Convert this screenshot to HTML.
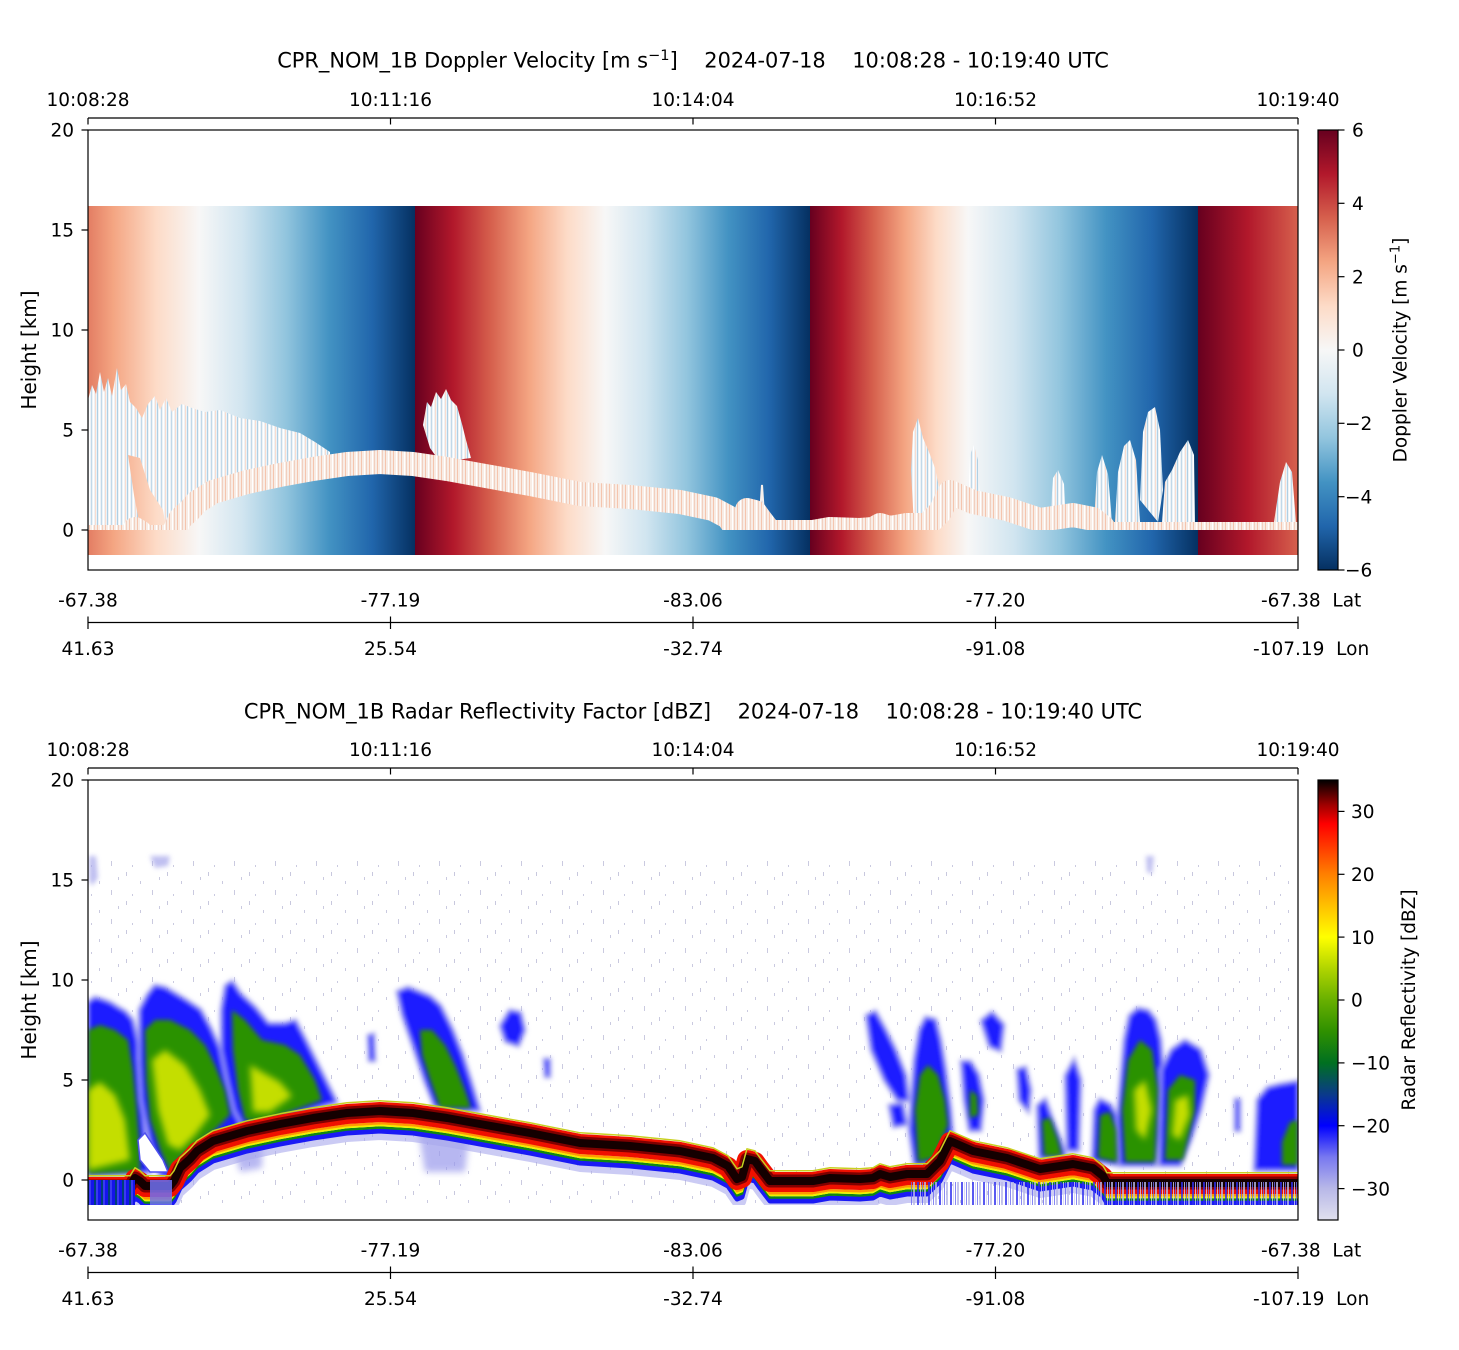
<!DOCTYPE html>
<html><head><meta charset="utf-8"><style>
html,body{margin:0;padding:0;background:#fff;}
svg{display:block;}
text{font-family:"DejaVu Sans","Liberation Sans",sans-serif;fill:#000;white-space:pre;}
</style></head><body>
<svg width="1459" height="1350" viewBox="0 0 1459 1350" xmlns="http://www.w3.org/2000/svg">
<defs>
<linearGradient id="dv" gradientUnits="userSpaceOnUse" x1="88" y1="0" x2="1298" y2="0">
<stop offset="0" stop-color="#e37d63"/><stop offset="0.0208" stop-color="#f4a582"/><stop offset="0.0564" stop-color="#fddbc7"/><stop offset="0.0921" stop-color="#f7f7f7"/><stop offset="0.1277" stop-color="#d1e5f0"/><stop offset="0.1634" stop-color="#92c5de"/><stop offset="0.1990" stop-color="#4393c3"/><stop offset="0.2346" stop-color="#2166ac"/><stop offset="0.2702" stop-color="#053061"/>
<stop offset="0.2702" stop-color="#67001f"/><stop offset="0.3017" stop-color="#b2182b"/><stop offset="0.3331" stop-color="#d6604d"/><stop offset="0.3645" stop-color="#f4a582"/><stop offset="0.3959" stop-color="#fddbc7"/><stop offset="0.4273" stop-color="#f7f7f7"/><stop offset="0.4612" stop-color="#d1e5f0"/><stop offset="0.4950" stop-color="#92c5de"/><stop offset="0.5289" stop-color="#4393c3"/><stop offset="0.5628" stop-color="#2166ac"/><stop offset="0.5967" stop-color="#053061"/>
<stop offset="0.5967" stop-color="#67001f"/><stop offset="0.6228" stop-color="#b2182b"/><stop offset="0.6489" stop-color="#d6604d"/><stop offset="0.6750" stop-color="#f4a582"/><stop offset="0.7012" stop-color="#fddbc7"/><stop offset="0.7273" stop-color="#f7f7f7"/><stop offset="0.7653" stop-color="#d1e5f0"/><stop offset="0.8033" stop-color="#92c5de"/><stop offset="0.8413" stop-color="#4393c3"/><stop offset="0.8793" stop-color="#2166ac"/><stop offset="0.9174" stop-color="#053061"/>
<stop offset="0.9174" stop-color="#67001f"/><stop offset="0.9587" stop-color="#b2182b"/><stop offset="1" stop-color="#d6604d"/>
</linearGradient>
<linearGradient id="cb1" x1="0" y1="0" x2="0" y2="1">
<stop offset="0" stop-color="#67001f"/><stop offset="0.1" stop-color="#b2182b"/><stop offset="0.2" stop-color="#d6604d"/><stop offset="0.3" stop-color="#f4a582"/><stop offset="0.4" stop-color="#fddbc7"/><stop offset="0.5" stop-color="#f7f7f7"/><stop offset="0.6" stop-color="#d1e5f0"/><stop offset="0.7" stop-color="#92c5de"/><stop offset="0.8" stop-color="#4393c3"/><stop offset="0.9" stop-color="#2166ac"/><stop offset="1" stop-color="#053061"/>
</linearGradient>
<linearGradient id="cb2" x1="0" y1="0" x2="0" y2="1">
<stop offset="0" stop-color="#000000"/><stop offset="0.0571" stop-color="#a00000"/><stop offset="0.1" stop-color="#ff0000"/><stop offset="0.1429" stop-color="#ff3000"/><stop offset="0.2143" stop-color="#ff8000"/><stop offset="0.2857" stop-color="#ffc000"/><stop offset="0.3571" stop-color="#ffff00"/><stop offset="0.4286" stop-color="#b0d400"/><stop offset="0.5" stop-color="#68b000"/><stop offset="0.5714" stop-color="#2f9000"/><stop offset="0.6429" stop-color="#007020"/><stop offset="0.7143" stop-color="#0a3a8a"/><stop offset="0.7857" stop-color="#0000ff"/><stop offset="0.8571" stop-color="#7878f0"/><stop offset="0.9286" stop-color="#b8b8e8"/><stop offset="1" stop-color="#e0e0ee"/>
</linearGradient>
<pattern id="cp" width="10" height="6" patternUnits="userSpaceOnUse">
<rect width="10" height="6" fill="#edf2f6"/><rect x="1" width="1" height="6" fill="#c2d9e9"/><rect x="3" width="1" height="6" fill="#ffffff"/><rect x="5" width="1" height="6" fill="#f9ddd0"/><rect x="7" width="1" height="6" fill="#b0d0e4"/><rect x="9" width="1" height="6" fill="#ffffff"/>
</pattern>
<pattern id="bp" width="8" height="4" patternUnits="userSpaceOnUse">
<rect width="8" height="4" fill="#f8ece5"/><rect x="1" width="1" height="4" fill="#f5c5ae"/><rect x="4" width="1" height="4" fill="#ffffff"/><rect x="6" width="1" height="4" fill="#f1cfbf"/>
</pattern>
<pattern id="spk" width="41" height="29" patternUnits="userSpaceOnUse">
<rect x="3" y="2" width="1" height="4" fill="#c8c8de"/><rect x="17" y="11" width="1" height="3" fill="#cacae0"/><rect x="29" y="20" width="1" height="5" fill="#cacae0"/><rect x="9" y="24" width="1" height="2" fill="#cacae0"/><rect x="36" y="7" width="1" height="3" fill="#cacae0"/>
</pattern>
<pattern id="ds" width="7" height="30" patternUnits="userSpaceOnUse">
<rect width="3" height="30" fill="#1414ea"/><rect x="3" width="2" height="30" fill="#00407a"/><rect x="5" width="2" height="30" fill="#3a3af2"/>
</pattern>
<pattern id="ls" width="11" height="30" patternUnits="userSpaceOnUse">
<rect x="0" width="2" height="30" fill="#b8b8e8"/><rect x="4" width="2" height="30" fill="#3030ee"/><rect x="7" width="1" height="30" fill="#d0d0f0"/><rect x="9" width="1" height="30" fill="#6a6af0"/>
</pattern>
<filter id="bl" x="-20%" y="-20%" width="140%" height="140%"><feGaussianBlur stdDeviation="2.5"/></filter>
<filter id="bl2" x="-20%" y="-20%" width="140%" height="140%"><feGaussianBlur stdDeviation="3.5"/></filter>
<clipPath id="clipT"><rect x="88" y="130" width="1210" height="440"/></clipPath>
<clipPath id="clipTband"><rect x="88" y="130" width="1210" height="400"/></clipPath>
<clipPath id="clipB"><rect x="88" y="780" width="1210" height="425"/></clipPath>
<path id="surf" d="M88,-5 L130,-5 L135,-13 L140,-10 L145,-5 L170,-5 L174,-10 L180,-23 L190,-32 L197,-40 L213,-50 L247,-60 L280,-67 L313,-73 L347,-78 L380,-80 L413,-78 L447,-73 L480,-67 L530,-58 L580,-48 L630,-45 L680,-40 L713,-33 L728,-25 L737,-12 L742,-14 L747,-32 L755,-30 L760,-23 L770,-10 L813,-10 L830,-13 L860,-12 L873,-13 L880,-17 L890,-14 L907,-17 L927,-17 L940,-30 L950,-50 L973,-40 L1007,-33 L1040,-22 L1060,-25 L1073,-27 L1093,-23 L1103,-15 L1107,-8 L1298,-8"/>
</defs>

<!-- ================= TOP PANEL ================= -->
<text x="693" y="67.5" text-anchor="middle" font-size="20.9">CPR_NOM_1B Doppler Velocity [m s<tspan font-size="14.6" dy="-7.5">−1</tspan><tspan dy="7.5">]    2024-07-18    10:08:28 - 10:19:40 UTC</tspan></text>

<g clip-path="url(#clipT)">
<rect x="88" y="206" width="1210" height="349" fill="url(#dv)"/>
<g fill="url(#cp)">
<polygon points="88,400 92,385 96,394 100,372 104,392 108,378 112,396 117,368 121,390 126,384 130,402 136,408 142,418 148,404 155,396 160,410 166,398 172,412 182,404 192,408 205,412 220,410 240,418 260,421 280,428 300,433 315,442 330,452 330,462 300,470 250,485 200,505 178,528 88,528"/>
<polygon points="423,425 427,402 431,407 436,392 441,399 446,389 451,400 457,406 462,424 466,440 471,458 440,462 430,448"/>
<polygon points="911,470 913,432 918,418 923,438 929,452 935,468 941,497 946,522 914,526"/>
<polygon points="968,505 970,455 974,445 978,460 980,505"/>
<polygon points="1094,522 1097,472 1102,455 1108,474 1112,522"/>
<polygon points="1115,522 1118,472 1124,446 1130,440 1136,460 1140,522"/>
<polygon points="1140,500 1143,432 1148,412 1155,407 1160,430 1163,490 1158,522"/>
<polygon points="1162,522 1165,482 1172,470 1180,452 1188,440 1194,455 1195,522"/>
<polygon points="1050,522 1053,478 1058,470 1064,484 1066,522"/>
<polygon points="1274,522 1280,482 1286,462 1292,472 1296,522"/>
</g>
<polygon points="128,455 140,458 150,490 163,510 166,527 140,527 134,495" fill="url(#dv)"/>
<polyline points="760,515 762,485 764,515" fill="none" stroke="#f7f0ec" stroke-width="2"/>
<g clip-path="url(#clipTband)">
<use href="#surf" transform="translate(0,542)" fill="none" stroke="url(#bp)" stroke-width="24" stroke-linejoin="round"/>
</g>
</g>
<rect x="88" y="130" width="1210" height="440" fill="none" stroke="#000" stroke-width="1.2"/>

<g stroke="#000" stroke-width="1.2">
<line x1="88" y1="118" x2="1298" y2="118"/>
<line x1="88" y1="118" x2="88" y2="124.5"/><line x1="390.5" y1="118" x2="390.5" y2="124.5"/><line x1="693" y1="118" x2="693" y2="124.5"/><line x1="995.5" y1="118" x2="995.5" y2="124.5"/><line x1="1298" y1="118" x2="1298" y2="124.5"/>
<line x1="81.5" y1="130" x2="88" y2="130"/><line x1="81.5" y1="230" x2="88" y2="230"/><line x1="81.5" y1="330" x2="88" y2="330"/><line x1="81.5" y1="430" x2="88" y2="430"/><line x1="81.5" y1="530" x2="88" y2="530"/>
<line x1="88" y1="622.5" x2="1298" y2="622.5"/>
<line x1="88" y1="616.5" x2="88" y2="629"/><line x1="390.5" y1="616.5" x2="390.5" y2="629"/><line x1="693" y1="616.5" x2="693" y2="629"/><line x1="995.5" y1="616.5" x2="995.5" y2="629"/><line x1="1298" y1="616.5" x2="1298" y2="629"/>
</g>
<g font-size="18.5" text-anchor="middle">
<text x="88" y="106.2">10:08:28</text><text x="390.5" y="106.2">10:11:16</text><text x="693" y="106.2">10:14:04</text><text x="995.5" y="106.2">10:16:52</text><text x="1298" y="106.2">10:19:40</text>
<text x="88" y="606.5">-67.38</text><text x="390.5" y="606.5">-77.19</text><text x="693" y="606.5">-83.06</text><text x="995.5" y="606.5">-77.20</text>
<text x="88" y="655">41.63</text><text x="390.5" y="655">25.54</text><text x="693" y="655">-32.74</text><text x="995.5" y="655">-91.08</text>
</g>
<g font-size="18.5">
<text x="1261" y="606.5">-67.38  Lat</text>
<text x="1253" y="655">-107.19  Lon</text>
</g>
<g font-size="18.5" text-anchor="end">
<text x="74" y="136.7">20</text><text x="74" y="236.7">15</text><text x="74" y="336.7">10</text><text x="74" y="436.7">5</text><text x="74" y="536.7">0</text>
</g>
<text transform="translate(36,350) rotate(-90)" text-anchor="middle" font-size="20">Height [km]</text>

<rect x="1318" y="130" width="20" height="440" fill="url(#cb1)"/>
<rect x="1318" y="130" width="20" height="440" fill="none" stroke="#000" stroke-width="1.2"/>
<g stroke="#000" stroke-width="1.2">
<line x1="1338" y1="130" x2="1344.5" y2="130"/><line x1="1338" y1="203.3" x2="1344.5" y2="203.3"/><line x1="1338" y1="276.7" x2="1344.5" y2="276.7"/><line x1="1338" y1="350" x2="1344.5" y2="350"/><line x1="1338" y1="423.3" x2="1344.5" y2="423.3"/><line x1="1338" y1="496.7" x2="1344.5" y2="496.7"/><line x1="1338" y1="570" x2="1344.5" y2="570"/>
</g>
<g font-size="18.5">
<text x="1352" y="136.7">6</text><text x="1352" y="210">4</text><text x="1352" y="283.4">2</text><text x="1352" y="356.7">0</text>
<text x="1345" y="430">−2</text><text x="1345" y="503.4">−4</text><text x="1345" y="576.7">−6</text>
</g>
<text transform="translate(1406.5,350) rotate(-90)" text-anchor="middle" font-size="18.5">Doppler Velocity [m s<tspan font-size="13" dy="-7">−1</tspan><tspan dy="7">]</tspan></text>

<!-- ================= BOTTOM PANEL ================= -->
<text x="693" y="718.3" text-anchor="middle" font-size="20.9">CPR_NOM_1B Radar Reflectivity Factor [dBZ]    2024-07-18    10:08:28 - 10:19:40 UTC</text>

<g clip-path="url(#clipB)">
<rect x="88" y="855" width="1210" height="350" fill="url(#spk)"/>
<g fill="#a4a4ea" filter="url(#bl)" opacity="0.7">
<polygon points="89,856 96,856 98,878 92,886 89,880"/>
<polygon points="150,856 170,856 168,866 155,868"/>
<polygon points="1146,856 1154,856 1152,874 1147,872"/>
</g>
<g fill="#1c1cff" stroke="#a8a8f0" stroke-width="5" paint-order="stroke" filter="url(#bl)">
<polygon points="88,1003 95,998 102,1000 110,1003 118,1008 125,1012 132,1020 137,1040 140,1080 143,1120 146,1150 150,1172 88,1175"/>
<polygon points="140,1010 148,995 155,986 165,988 175,994 185,1000 200,1010 210,1028 220,1050 228,1070 232,1090 236,1110 240,1125 225,1135 200,1150 180,1165 172,1178 160,1175 150,1140 142,1100 140,1060"/>
<polygon points="222,1010 226,986 232,982 240,994 255,1008 268,1024 285,1024 295,1021 305,1040 315,1060 325,1080 336,1102 300,1112 270,1120 245,1128 235,1110 228,1080 222,1050"/>
<polygon points="398,992 408,988 418,992 430,997 440,1006 452,1030 462,1055 470,1080 479,1110 455,1110 435,1106 425,1080 415,1050 403,1015"/>
<polygon points="501,1026 510,1011 520,1013 524,1030 518,1045 506,1041"/>
<polygon points="369,1036 373,1035 374,1060 370,1060"/>
<polygon points="545,1060 549,1060 549,1076 546,1076"/>
<polygon points="867,1016 875,1012 885,1030 895,1050 905,1075 908,1100 898,1100 885,1080 872,1050"/>
<polygon points="890,1106 902,1104 906,1124 894,1126"/>
<polygon points="912,1100 915,1060 920,1030 926,1018 935,1020 940,1040 945,1070 950,1110 952,1135 940,1162 915,1165 910,1130"/>
<polygon points="962,1062 970,1062 978,1075 983,1100 980,1130 970,1130 965,1100"/>
<polygon points="982,1021 992,1013 1003,1025 1000,1050 990,1046"/>
<polygon points="1018,1070 1025,1068 1030,1090 1028,1110 1020,1100"/>
<polygon points="1038,1106 1045,1100 1052,1120 1060,1140 1065,1156 1040,1158"/>
<polygon points="1066,1076 1074,1061 1080,1080 1078,1150 1068,1150"/>
<polygon points="1093,1160 1095,1110 1100,1100 1110,1105 1118,1120 1120,1165"/>
<polygon points="1125,1040 1130,1016 1138,1009 1148,1011 1155,1020 1160,1040 1163,1080 1160,1120 1155,1165 1120,1165 1118,1120"/>
<polygon points="1162,1070 1172,1050 1185,1041 1200,1050 1208,1075 1200,1110 1190,1140 1180,1165 1160,1165"/>
<polygon points="1258,1100 1268,1088 1280,1085 1298,1082 1298,1170 1255,1170"/>
<polygon points="1236,1100 1239,1100 1239,1130 1236,1130"/>
</g>
<g fill="#9a9aec" filter="url(#bl2)" opacity="0.7">
<polygon points="232,1140 262,1135 262,1168 240,1172"/>
<polygon points="418,1128 470,1128 465,1172 425,1172"/>
</g>
<g fill="#2a9200" filter="url(#bl)">
<polygon points="88,1030 100,1025 115,1030 128,1040 133,1070 137,1110 140,1150 140,1172 88,1174"/>
<polygon points="145,1030 155,1020 170,1020 190,1030 205,1045 215,1065 225,1090 230,1115 215,1130 195,1145 178,1160 170,1172 160,1150 150,1120 146,1080"/>
<polygon points="232,1010 245,1020 262,1040 285,1045 300,1055 315,1080 322,1100 290,1112 260,1122 245,1120 238,1090 233,1050"/>
<polygon points="420,1030 432,1030 445,1045 455,1065 465,1090 471,1108 440,1108 430,1080 422,1055"/>
<polygon points="915,1110 920,1075 928,1065 938,1075 945,1100 948,1125 935,1158 918,1162"/>
<polygon points="970,1090 977,1095 978,1115 970,1118"/>
<polygon points="1042,1120 1050,1118 1058,1140 1062,1156 1044,1156"/>
<polygon points="1098,1158 1100,1115 1110,1112 1116,1130 1117,1162"/>
<polygon points="1128,1060 1140,1040 1152,1050 1158,1090 1155,1162 1125,1162 1122,1110"/>
<polygon points="1168,1090 1180,1075 1195,1080 1195,1110 1183,1160 1165,1160"/>
<polygon points="1282,1142 1290,1122 1298,1120 1298,1165 1282,1165"/>
</g>
<g fill="#c4de00" filter="url(#bl2)">
<polygon points="88,1090 100,1082 115,1095 125,1120 130,1160 88,1170"/>
<polygon points="152,1060 165,1050 185,1065 200,1090 210,1115 195,1135 180,1150 168,1145 158,1110"/>
<polygon points="250,1065 262,1072 280,1082 292,1096 270,1112 253,1112"/>
<polygon points="1134,1090 1145,1080 1152,1110 1145,1140 1136,1130"/>
<polygon points="1175,1100 1188,1095 1190,1115 1180,1140 1172,1135"/>
</g>
<polygon points="138,1140 145,1133 155,1148 163,1160 168,1172 150,1172 140,1160" fill="#ffffff" stroke="#5050f0" stroke-width="1.5"/>

<g transform="translate(0,1180)" fill="none" stroke-linejoin="round">
<use href="#surf" transform="translate(0,36)" stroke="#a8a8ec" stroke-width="8" opacity="0.6"/>
<use href="#surf" transform="translate(0,31)" stroke="#1a1af5" stroke-width="5"/>
<use href="#surf" transform="translate(0,27.5)" stroke="#108a10" stroke-width="2.5"/>
<use href="#surf" transform="translate(0,25.3)" stroke="#f0f000" stroke-width="2"/>
<use href="#surf" transform="translate(0,23.2)" stroke="#ff9a00" stroke-width="2.5"/>
<use href="#surf" transform="translate(0,12)" stroke="#f01000" stroke-width="20"/>
<use href="#surf" transform="translate(0,11)" stroke="#800000" stroke-width="13"/>
<use href="#surf" transform="translate(0,11)" stroke="#140000" stroke-width="8"/>
<use href="#surf" transform="translate(0,0.8)" stroke="#c8d020" stroke-width="1.5"/>
</g>
<rect x="88" y="1180" width="47" height="25" fill="url(#ds)"/>
<rect x="150" y="1180" width="22" height="25" fill="#7070f0" opacity="0.85"/>
<rect x="910" y="1182" width="388" height="23" fill="url(#ls)" opacity="0.8"/>
</g>
<rect x="88" y="780" width="1210" height="440" fill="none" stroke="#000" stroke-width="1.2"/>

<g stroke="#000" stroke-width="1.2">
<line x1="88" y1="768" x2="1298" y2="768"/>
<line x1="88" y1="768" x2="88" y2="774.5"/><line x1="390.5" y1="768" x2="390.5" y2="774.5"/><line x1="693" y1="768" x2="693" y2="774.5"/><line x1="995.5" y1="768" x2="995.5" y2="774.5"/><line x1="1298" y1="768" x2="1298" y2="774.5"/>
<line x1="81.5" y1="780" x2="88" y2="780"/><line x1="81.5" y1="880" x2="88" y2="880"/><line x1="81.5" y1="980" x2="88" y2="980"/><line x1="81.5" y1="1080" x2="88" y2="1080"/><line x1="81.5" y1="1180" x2="88" y2="1180"/>
<line x1="88" y1="1272.5" x2="1298" y2="1272.5"/>
<line x1="88" y1="1266.5" x2="88" y2="1279"/><line x1="390.5" y1="1266.5" x2="390.5" y2="1279"/><line x1="693" y1="1266.5" x2="693" y2="1279"/><line x1="995.5" y1="1266.5" x2="995.5" y2="1279"/><line x1="1298" y1="1266.5" x2="1298" y2="1279"/>
</g>
<g font-size="18.5" text-anchor="middle">
<text x="88" y="756.2">10:08:28</text><text x="390.5" y="756.2">10:11:16</text><text x="693" y="756.2">10:14:04</text><text x="995.5" y="756.2">10:16:52</text><text x="1298" y="756.2">10:19:40</text>
<text x="88" y="1256.5">-67.38</text><text x="390.5" y="1256.5">-77.19</text><text x="693" y="1256.5">-83.06</text><text x="995.5" y="1256.5">-77.20</text>
<text x="88" y="1305">41.63</text><text x="390.5" y="1305">25.54</text><text x="693" y="1305">-32.74</text><text x="995.5" y="1305">-91.08</text>
</g>
<g font-size="18.5">
<text x="1261" y="1256.5">-67.38  Lat</text>
<text x="1253" y="1305">-107.19  Lon</text>
</g>
<g font-size="18.5" text-anchor="end">
<text x="74" y="786.7">20</text><text x="74" y="886.7">15</text><text x="74" y="986.7">10</text><text x="74" y="1086.7">5</text><text x="74" y="1186.7">0</text>
</g>
<text transform="translate(36,1000) rotate(-90)" text-anchor="middle" font-size="20">Height [km]</text>

<rect x="1318" y="780" width="20" height="440" fill="url(#cb2)"/>
<rect x="1318" y="780" width="20" height="440" fill="none" stroke="#000" stroke-width="1.2"/>
<g stroke="#000" stroke-width="1.2">
<line x1="1338" y1="811.4" x2="1344.5" y2="811.4"/><line x1="1338" y1="874.3" x2="1344.5" y2="874.3"/><line x1="1338" y1="937.1" x2="1344.5" y2="937.1"/><line x1="1338" y1="1000" x2="1344.5" y2="1000"/><line x1="1338" y1="1062.9" x2="1344.5" y2="1062.9"/><line x1="1338" y1="1125.7" x2="1344.5" y2="1125.7"/><line x1="1338" y1="1188.6" x2="1344.5" y2="1188.6"/>
</g>
<g font-size="18.5">
<text x="1351" y="818.1">30</text><text x="1351" y="881">20</text><text x="1351" y="943.8">10</text><text x="1351" y="1006.7">0</text>
<text x="1351" y="1069.6">−10</text><text x="1351" y="1132.4">−20</text><text x="1351" y="1195.3">−30</text>
</g>
<text transform="translate(1415,1000) rotate(-90)" text-anchor="middle" font-size="18.5">Radar Reflectivity [dBZ]</text>
</svg>
</body></html>
